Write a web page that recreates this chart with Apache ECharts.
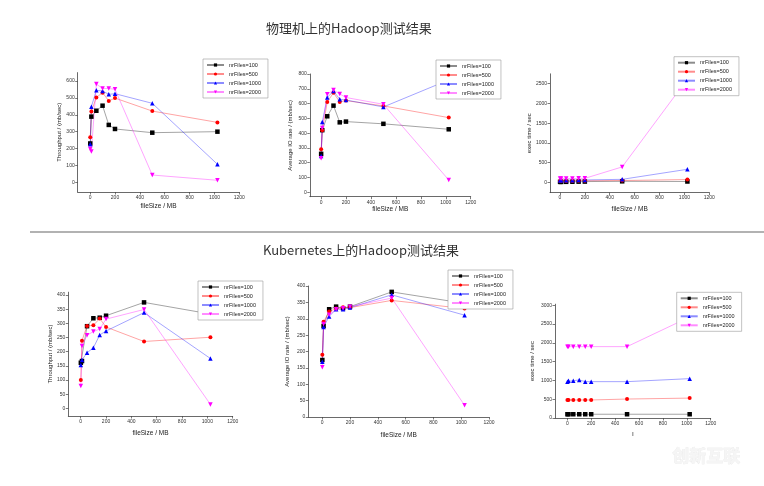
<!DOCTYPE html>
<html><head><meta charset="utf-8">
<script src="https://cdn.jsdelivr.net/npm/echarts@6.0.0/dist/echarts.min.js"></script>
<style>html,body{margin:0;padding:0;background:#fff}#c{width:764px;height:486px}</style>
</head><body><div id="c"></div>
<script>
// ---- data ----
const fileSizes = [1, 10, 50, 100, 150, 200, 500, 1024];
const seriesNames = ['nrFiles=100', 'nrFiles=500', 'nrFiles=1000', 'nrFiles=2000'];
const xTicks = [0, 200, 400, 600, 800, 1000, 1200];

// physical: throughput
const phyThr100  = [230, 389, 424, 454, 340, 316, 294, 300];
const phyThr500  = [267, 420, 503, 531, 482, 499, 422, 355];
const phyThr1000 = [225, 448, 545, 541, 521, 525, 468, 107];
const phyThr2000 = [198, 183, 582, 556, 556, 551, 43, 12];
const phyThrTicks = [0, 100, 200, 300, 400, 500, 600];
// physical: average IO rate
const phyIO100  = [260, 420, 514, 586, 473, 478, 463, 426];
const phyIO500  = [291, 420, 611, 673, 611, 620, 584, 505];
const phyIO1000 = [246, 475, 641, 685, 629, 624, 577, 760];
const phyIO2000 = [230, 435, 663, 691, 665, 641, 595, 83];
const phyIOTicks = [0, 100, 200, 300, 400, 500, 600, 700, 800];
// physical: exec time
const phyEx100  = [10, 10, 12, 14, 16, 18, 25, 20];
const phyEx500  = [30, 30, 35, 35, 40, 40, 45, 70];
const phyEx1000 = [50, 50, 55, 55, 60, 60, 75, 330];
const phyEx2000 = [95, 95, 95, 95, 100, 100, 390, 2620];
const phyExTicks = [0, 500, 1000, 1500, 2000, 2500];
// kubernetes: throughput
const k8sThr100  = [161, 167, 290, 318, 320, 327, 374, 333];
const k8sThr500  = [100, 239, 291, 293, 317, 287, 236, 251];
const k8sThr1000 = [153, 171, 196, 214, 259, 273, 338, 176];
const k8sThr2000 = [79, 220, 258, 271, 280, 315, 349, 14];
const k8sThrTicks = [0, 50, 100, 150, 200, 250, 300, 350, 400];
// kubernetes: average IO rate
const k8sIO100  = [174, 278, 329, 337, 332, 337, 382, 347];
const k8sIO500  = [190, 291, 322, 331, 335, 334, 356, 331];
const k8sIO1000 = [169, 275, 307, 329, 329, 334, 373, 311];
const k8sIO2000 = [152, 284, 312, 329, 332, 337, 363, 36];
const k8sIOTicks = [0, 50, 100, 150, 200, 250, 300, 350, 400];
// kubernetes: exec time
const k8sEx100  = [100, 100, 100, 100, 100, 100, 100, 100];
const k8sEx500  = [480, 480, 480, 480, 480, 480, 505, 530];
const k8sEx1000 = [968, 995, 995, 1012, 968, 968, 968, 1048];
const k8sEx2000 = [1900, 1900, 1900, 1900, 1900, 1900, 1900, 2690];
const k8sExTicks = [0, 500, 1000, 1500, 2000, 2500, 3000];

// ---- layout ----
const plots = [
  {ys:[phyThr100,phyThr500,phyThr1000,phyThr2000], yt:phyThrTicks, yName:'Throughput / (mb/sec)', xName:'fileSize / MB',
   grid:{left:77.7, top:72.6, width:161.6, height:119.4}, xr:[-100,1200], yr:[-57.5,650], yGap:15.4, xGap:11, leg:{left:203, top:59}},
  {ys:[phyIO100,phyIO500,phyIO1000,phyIO2000], yt:phyIOTicks, yName:'Average IO rate / (mb/sec)', xName:'fileSize / MB',
   grid:{left:309.8, top:74, width:160.9, height:122.7}, xr:[-90,1200], yr:[-30,800], yGap:16.3, xGap:7, leg:{left:436, top:60}},
  {ys:[phyEx100,phyEx500,phyEx1000,phyEx2000], yt:phyExTicks, yName:'exec time / sec', xName:'fileSize / MB',
   grid:{left:550, top:73.85, width:159.3, height:118.7}, xr:[-80,1200], yr:[-260,2750], yGap:11.5, xGap:13.5, leg:{left:674, top:56.7}},
  {ys:[k8sThr100,k8sThr500,k8sThr1000,k8sThr2000], yt:k8sThrTicks, yName:'Throughput / (mb/sec)', xName:'fileSize / MB',
   grid:{left:68.3, top:292.2, width:164.4, height:123.8}, xr:[-98,1200], yr:[-27,410], yGap:15.3, xGap:14, leg:{left:198, top:281}},
  {ys:[k8sIO100,k8sIO500,k8sIO1000,k8sIO2000], yt:k8sIOTicks, yName:'Average IO rate / (mb/sec)', xName:'fileSize / MB',
   grid:{left:308.3, top:286, width:180.7, height:131}, xr:[-100,1200], yr:[0,400], yGap:18, xGap:15, leg:{left:448, top:270}},
  {ys:[k8sEx100,k8sEx500,k8sEx1000,k8sEx2000], yt:k8sExTicks, yName:'exec time / sec', xName:'ı',
   grid:{left:555, top:304.2, width:155.7, height:113.8}, xr:[-103,1200], yr:[0,3030], yGap:19.3, xGap:13, leg:{left:676.7, top:292.3}}
];

const colors = ['#000000', '#ff0000', '#0000ff', '#ff00ff'];
const symbols = ['rect', 'circle', 'triangle', 'path://M0,0L10,0L5,9Z'];
const FONT = 'Liberation Sans, Arial, sans-serif';
const axisCol = '#444';
const plain = v => String(v);

const grid = [], xAxis = [], yAxis = [], series = [], legend = [];
plots.forEach((p, i) => {
  grid.push(Object.assign({containLabel:false}, p.grid));
  xAxis.push({
    type:'value', gridIndex:i, min:p.xr[0], max:p.xr[1],
    name:p.xName, nameLocation:'middle', nameGap:p.xGap,
    nameTextStyle:{fontSize:6.5, color:'#222', fontFamily:FONT},
    axisLine:{show:true, onZero:false, lineStyle:{color:axisCol, width:0.8}},
    axisTick:{show:true, length:2.5, customValues:xTicks, lineStyle:{color:axisCol, width:0.7}},
    axisLabel:{customValues:xTicks, formatter:plain, fontSize:5, color:'#333', margin:3, fontFamily:FONT},
    splitLine:{show:false}
  });
  yAxis.push({
    type:'value', gridIndex:i, min:p.yr[0], max:p.yr[1],
    name:p.yName, nameLocation:'middle', nameGap:p.yGap, nameRotate:90,
    nameTextStyle:{fontSize:6, color:'#222', fontFamily:FONT},
    axisLine:{show:true, onZero:false, lineStyle:{color:axisCol, width:0.8}},
    axisTick:{show:true, length:2.5, customValues:p.yt, lineStyle:{color:axisCol, width:0.7}},
    axisLabel:{customValues:p.yt, formatter:plain, fontSize:5, color:'#333', margin:3, fontFamily:FONT},
    splitLine:{show:false}
  });
  p.ys.forEach((vals, k) => {
    series.push({
      type:'line', name:seriesNames[k], xAxisIndex:i, yAxisIndex:i,
      data:fileSizes.map((x, j) => [x, vals[j]]),
      symbol:symbols[k], symbolSize:k === 1 ? 4 : 4.5, showSymbol:true,
      itemStyle:{color:colors[k]},
      lineStyle:{color:colors[k], width:0.8, opacity:0.45},
      animation:false, z:2
    });
  });
  legend.push({
    left:p.leg.left, top:p.leg.top, orient:'vertical',
    data:seriesNames, itemWidth:17, itemHeight:4, itemGap:3,
    padding:[3,7,3,3], borderColor:'#999', borderWidth:0.6, backgroundColor:'#fff',
    textStyle:{fontSize:5.5, color:'#222', fontFamily:FONT},
    selectedMode:false, z:5
  });
});

const chart = echarts.init(document.getElementById('c'), null, {renderer:'canvas'});
chart.setOption({
  backgroundColor:'#fff',
  animation:false,
  grid, xAxis, yAxis, series, legend,
  graphic:[
    {type:'text', left:266, top:22, style:{text:'物理机上的Hadoop测试结果', fontSize:13, fill:'#333', fontFamily:'Noto Sans CJK SC'}},
    {type:'line', shape:{x1:30, y1:232, x2:764, y2:232}, style:{stroke:'#999', lineWidth:1.5}},
    {type:'text', left:263, top:244, style:{text:'Kubernetes上的Hadoop测试结果', fontSize:13, fill:'#333', fontFamily:'Noto Sans CJK SC'}},
    {type:'text', left:672, top:447, style:{text:'创新互联', fontSize:17, fontWeight:'bold', fill:'#f5f5f5', stroke:'#e6e6e6', lineWidth:0.5, fontFamily:'Noto Sans CJK SC'}}
  ]
});
</script></body></html>
